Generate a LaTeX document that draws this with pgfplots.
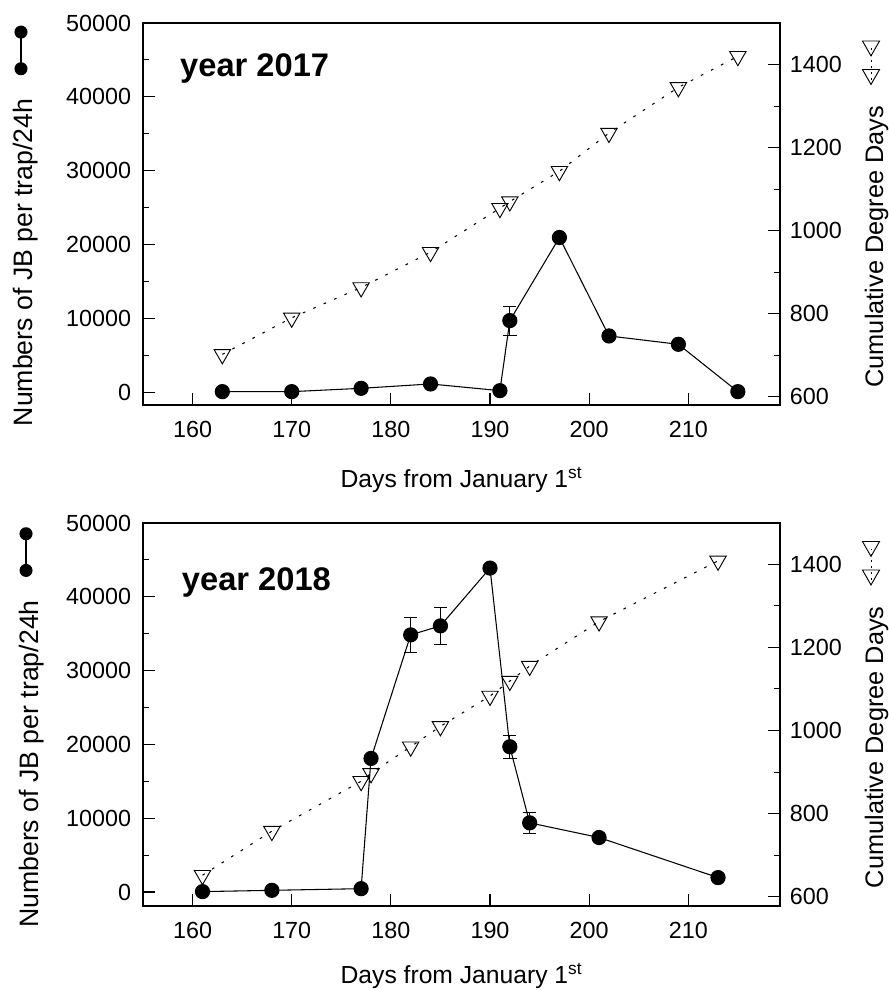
\documentclass[border=0pt]{standalone}
\usepackage{fontspec}
\setmainfont{Liberation Sans}
\usepackage{pgfplots}
\pgfplotsset{compat=1.18}
\usepackage{pgfplotstable}

\pgfplotstableread{
x y e
163 90 0
170 90 0
177 540 0
184 1130 0
191 225 0
192 9710 1970
197 20960 0
202 7630 0
209 6500 0
215 90 0
}\jbA

\pgfplotstableread{
x y
163 702
170 790
177 863
184 948
191 1054
192 1070
197 1143
202 1235
209 1345
215 1420
}\cddA

\pgfplotstableread{
x y e
161 50 0
168 226 0
177 450 0
178 18100 0
182 34840 2400
185 36060 2470
190 43890 0
192 19680 1580
194 9370 1400
201 7380 0
213 1950 0
}\jbB

\pgfplotstableread{
x y
161 652
168 758
177 878
178 897
182 961
185 1010
190 1083
192 1119
194 1155
201 1262
213 1408
}\cddB

\newcommand{\jbsym}{\tikz[baseline=0pt]{\draw[black,line width=0.8pt,solid] (0,9pt)--(27.5pt,9pt); \fill[black] (0,9pt) circle (4.9pt); \fill[black] (27.5pt,9pt) circle (4.9pt);}}
\newcommand{\cddsym}{\tikz[baseline=0pt]{\draw[black,line width=0.7pt,dash pattern=on 1.5pt off 3pt] (-2pt,9pt)--(21.4pt,9pt);
\draw[black,line width=0.7pt,solid] (-5.6pt,9pt)--(5.6pt,15.4pt)--(5.6pt,2.6pt)--cycle;
\draw[black,line width=0.7pt,solid] (15.8pt,9pt)--(27pt,15.4pt)--(27pt,2.6pt)--cycle;}}

\pgfplotsset{
  common/.style={
    scale only axis, width=477.75pt,
    xmin=155, xmax=219.25,
    tick align=inside,
    scaled ticks=false,
    major tick length=9pt, minor tick length=4.5pt,
    every tick/.style={black, line width=0.8pt},
    axis line style={line width=1pt},
    /pgf/number format/assume math mode=true,
    /pgf/number format/1000 sep={},
    ticklabel style={font=\fontsize{17.5}{21}\selectfont},
    xticklabel style={yshift=-8.4pt},
  },
  jbplot/.style={black, line width=0.8pt, mark=*, mark size=5.3pt,
    mark options={solid, fill=black},
    error bars/.cd, y dir=both, y explicit,
    error bar style={line width=0.8pt, black},
    error mark options={rotate=90, mark size=5pt, line width=0.8pt, black}},
  cddplot/.style={black, line width=0.8pt, dash pattern=on 2pt off 6.5pt,
    mark=triangle, mark size=7.1pt,
    mark options={solid, rotate=180, line width=0.7pt, fill=none}},
}

\begin{document}
\begin{tikzpicture}
\useasboundingbox (0,0) rectangle (666.75pt,-742.5pt);

% ---------- top panel (2017) ----------
\begin{axis}[common, at={(107.25pt,-303.75pt)}, anchor=south west, height=286.5pt,
  ymin=-1720, ymax=50000, ytick={0,10000,...,50000}, minor y tick num=1,
  xtick={160,170,...,210}, xtick pos=bottom, ytick pos=left,
  yticklabel style={xshift=-5.4pt},
  xlabel={Days from January 1\textsuperscript{st}},
  xlabel style={font=\fontsize{18.5}{22}\selectfont, at={(axis description cs:0.5,-0.2147)}, anchor=base},
  ylabel={Numbers of JB per trap/24h\hspace{17.5pt}\jbsym},
  ylabel style={font=\fontsize{20}{24}\selectfont, at={(axis description cs:-0.1727,0.469)}, anchor=base},
]
\addplot[jbplot] table[x=x, y=y, y error=e] {\jbA};
\node[anchor=base west, inner sep=0pt, font=\fontsize{24.5}{29}\selectfont\bfseries] at (rel axis cs:0.058,0.859) {year 2017};
\end{axis}
\begin{axis}[common, at={(107.25pt,-303.75pt)}, anchor=south west, height=286.5pt,
  axis y line*=right, axis x line=none,
  ymin=580, ymax=1500, ytick={600,800,...,1400}, minor y tick num=1,
  yticklabel style={xshift=3.9pt},
  ylabel={Cumulative Degree Days\hspace{15.75pt}\cddsym},
  ylabel style={font=\fontsize{19}{23}\selectfont, at={(axis description cs:1.1617,0.5)}, anchor=base},
]
\addplot[cddplot] table[x=x, y=y] {\cddA};
\end{axis}

% ---------- bottom panel (2018) ----------
\begin{axis}[common, at={(107.25pt,-679.5pt)}, anchor=south west, height=287.25pt,
  ymin=-1900, ymax=50000, ytick={0,10000,...,50000}, minor y tick num=1,
  xtick={160,170,...,210}, xtick pos=bottom, ytick pos=left,
  yticklabel style={xshift=-5.4pt},
  xlabel={Days from January 1\textsuperscript{st}},
  xlabel style={font=\fontsize{18.5}{22}\selectfont, at={(axis description cs:0.5,-0.201)}, anchor=base},
  ylabel={Numbers of JB per trap/24h\hspace{17.5pt}\jbsym},
  ylabel style={font=\fontsize{20}{24}\selectfont, at={(axis description cs:-0.1648,0.466)}, anchor=base},
]
\addplot[jbplot] table[x=x, y=y, y error=e] {\jbB};
\node[anchor=base west, inner sep=0pt, font=\fontsize{24.5}{29}\selectfont\bfseries] at (rel axis cs:0.0607,0.825) {year 2018};
\end{axis}
\begin{axis}[common, at={(107.25pt,-679.5pt)}, anchor=south west, height=287.25pt,
  axis y line*=right, axis x line=none,
  ymin=578, ymax=1499, ytick={600,800,...,1400}, minor y tick num=1,
  yticklabel style={xshift=3.9pt},
  ylabel={Cumulative Degree Days\hspace{15.75pt}\cddsym},
  ylabel style={font=\fontsize{19}{23}\selectfont, at={(axis description cs:1.1617,0.5)}, anchor=base},
]
\addplot[cddplot] table[x=x, y=y] {\cddB};
\end{axis}
\end{tikzpicture}
\end{document}
